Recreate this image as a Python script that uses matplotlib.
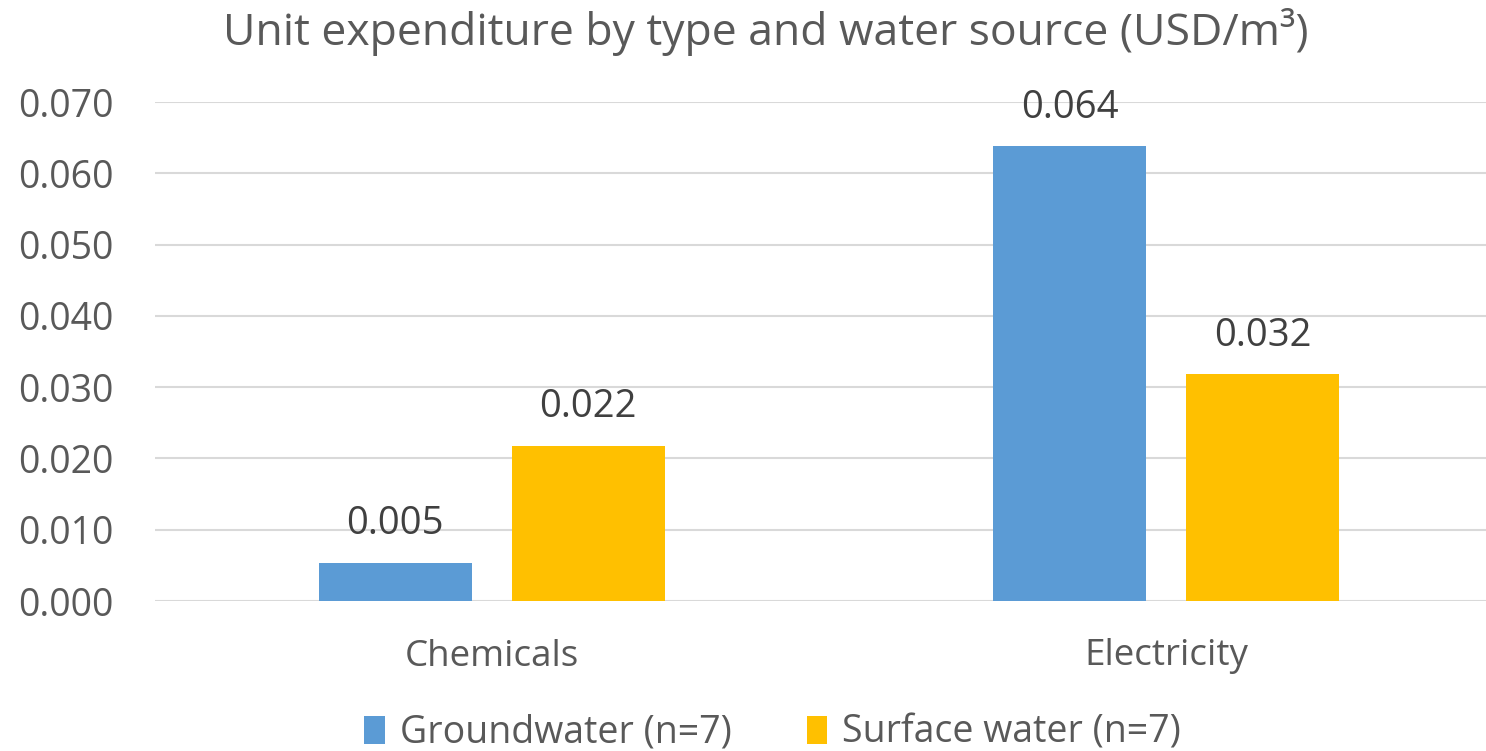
import numpy as np
import matplotlib
matplotlib.use("Agg")
import matplotlib.pyplot as plt
from matplotlib.patches import Patch

categories = ["Chemicals", "Electricity"]
series_names = ["Groundwater (n=7)", "Surface water (n=7)"]
groundwater = [0.0054, 0.0638]
surface_water = [0.0218, 0.0318]
value_labels = [["0.005", "0.064"], ["0.022", "0.032"]]
yticks = [0.0, 0.01, 0.02, 0.03, 0.04, 0.05, 0.06, 0.07]

colors = ["#5B9BD5", "#FFC000"]
text_grey = "#595959"
label_grey = "#404040"

plt.rcParams["font.family"] = ["Open Sans", "DejaVu Sans"]

fig = plt.figure(figsize=(14.86, 7.51), dpi=100)
ax = fig.add_axes([155 / 1486, 1 - 601 / 751, 1 - 155 / 1486, (601 - 102) / 751])

x = np.arange(len(categories))
width = 0.227
offset = 0.143
series = [groundwater, surface_water]
for i, vals in enumerate(series):
    pos = x + (i * 2 - 1) * offset
    bars = ax.bar(pos, vals, width, color=colors[i], zorder=3)
    for b, txt in zip(bars, value_labels[i]):
        ax.annotate(txt, (b.get_x() + b.get_width() / 2, b.get_height()),
                    xytext=(0, 14), textcoords="offset points",
                    ha="center", va="bottom", fontsize=27.5, color=label_grey)

ax.set_xlim(-0.499, 1.474)
ax.set_ylim(0, 0.07)
ax.set_yticks(yticks)
ax.set_yticklabels([f"{t:.3f}" for t in yticks])
ax.set_xticks(x)
ax.set_xticklabels(categories)
ax.tick_params(axis="y", length=0, pad=30, labelsize=27, labelcolor=text_grey)
ax.tick_params(axis="x", length=0, pad=27, labelsize=26.5, labelcolor=text_grey)
ax.yaxis.grid(True, color="#D9D9D9", linewidth=1.5, zorder=0)
for s in ax.spines.values():
    s.set_visible(False)

fig.text(0.515, 0.958, "Unit expenditure by type and water source (USD/m³)",
         ha="center", va="center", fontsize=32, color=text_grey)

handles = [Patch(facecolor=c, edgecolor="none") for c in colors]
fig.legend(handles, series_names, loc="center", bbox_to_anchor=(0.52, 0.024),
           ncol=2, frameon=False, fontsize=27, labelcolor=text_grey,
           handlelength=0.55, handleheight=0.8, handletextpad=0.4, columnspacing=2.0)

fig.savefig("out.png", dpi=100, facecolor="white")
